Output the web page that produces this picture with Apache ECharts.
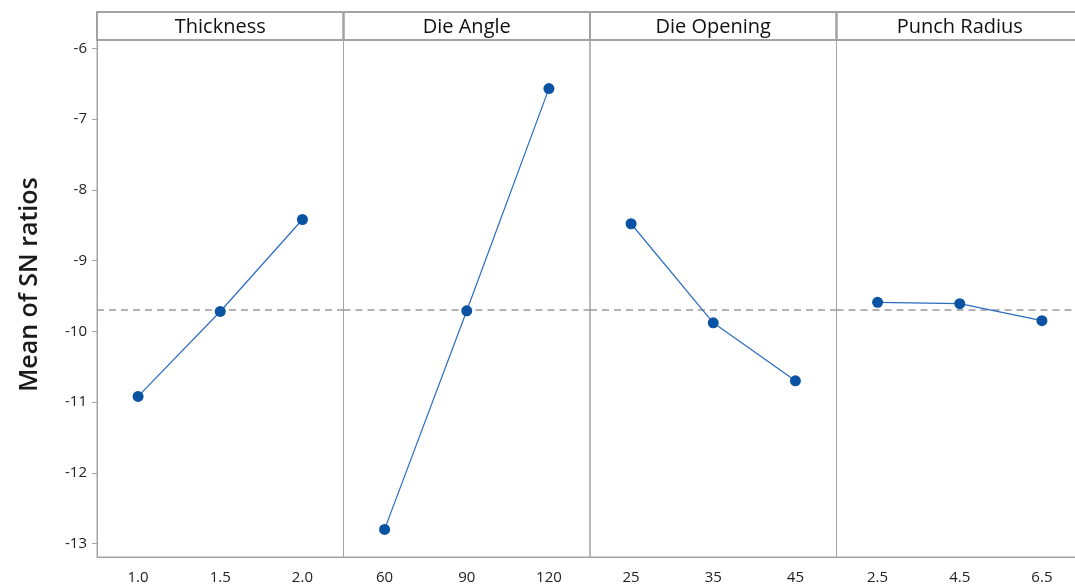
<!DOCTYPE html>
<html>
<head>
<meta charset="utf-8">
<title>Main Effects Plot for SN ratios</title>
<script src="https://cdn.jsdelivr.net/npm/echarts@6/dist/echarts.min.js"></script>
<style>
  html, body { margin: 0; padding: 0; background: #fff; }
  #chart { width: 1075px; height: 586px; }
</style>
</head>
<body>
<div id="chart"></div>
<script>
// factors and their levels
const factors = ['Thickness', 'Die Angle', 'Die Opening', 'Punch Radius'];
const thicknessLevels = ['1.0', '1.5', '2.0'];
const dieAngleLevels = ['60', '90', '120'];
const dieOpeningLevels = ['25', '35', '45'];
const punchRadiusLevels = ['2.5', '4.5', '6.5'];

// mean SN ratio per level
const thicknessSN = [-10.92, -9.72, -8.42];
const dieAngleSN = [-12.80, -9.71, -6.57];
const dieOpeningSN = [-8.48, -9.88, -10.70];
const punchRadiusSN = [-9.59, -9.61, -9.85];

const overallMean = -9.69;
const yTicks = [-13, -12, -11, -10, -9, -8, -7, -6];

const levels = [thicknessLevels, dieAngleLevels, dieOpeningLevels, punchRadiusLevels];
const values = [thicknessSN, dieAngleSN, dieOpeningSN, punchRadiusSN];

// layout
const plotLeft = 97;
const panelW = 246.5;
const plotTop = 40;
const plotBottom = 29;
const headerTop = 12;
const frameColor = '#a3a3a3';
const fontFam = '"Open Sans", "Noto Sans", sans-serif';

const chart = echarts.init(document.getElementById('chart'));

const grids = [], xAxes = [], yAxes = [], series = [], graphics = [];

factors.forEach((name, i) => {
  const left = plotLeft + i * panelW;
  grids.push({
    left: left, width: panelW, top: plotTop, bottom: plotBottom,
    outerBoundsMode: 'none',
    show: true, borderColor: frameColor, borderWidth: 1
  });
  xAxes.push({
    type: 'category', gridIndex: i, data: levels[i], boundaryGap: true,
    axisLine: { lineStyle: { color: frameColor } },
    axisTick: { alignWithLabel: true, length: 4, lineStyle: { color: frameColor } },
    axisLabel: { color: '#222', fontSize: 15, fontFamily: fontFam, margin: 13 }
  });
  yAxes.push({
    type: 'value', gridIndex: i, min: -13.19, max: -5.883,
    show: i === 0,
    splitLine: { show: false },
    axisLine: { show: true, lineStyle: { color: frameColor } },
    axisTick: { show: true, length: 5, customValues: yTicks, lineStyle: { color: frameColor } },
    axisLabel: { show: true, customValues: yTicks, color: '#222', fontSize: 15, fontFamily: fontFam, margin: 10 }
  });
  series.push({
    type: 'line', xAxisIndex: i, yAxisIndex: i, data: values[i],
    symbol: 'circle', symbolSize: 11,
    lineStyle: { color: '#2a6cc0', width: 1.2 },
    itemStyle: { color: '#0a53a3' },
    z: 3,
    markLine: {
      silent: true, symbol: 'none', label: { show: false },
      lineStyle: { color: '#9a9a9a', type: [7, 5], width: 1.5 },
      data: [{ yAxis: overallMean }],
      z: 1
    }
  });
  graphics.push({
    type: 'rect',
    shape: { x: left, y: headerTop, width: panelW, height: plotTop - headerTop },
    style: { fill: 'none', stroke: frameColor, lineWidth: 2 }
  });
  graphics.push({
    type: 'text',
    x: left + panelW / 2, y: (headerTop + plotTop) / 2 + 1,
    style: {
      text: name, fill: '#111', fontSize: 20, fontFamily: fontFam,
      align: 'center', verticalAlign: 'middle'
    }
  });
});

// y axis title, centred on the whole panel block (header included)
graphics.push({
  type: 'text',
  x: 30, y: (headerTop + 586 - plotBottom) / 2,
  rotation: Math.PI / 2,
  style: {
    text: 'Mean of SN ratios', fill: '#1a1a1a', fontSize: 25, fontWeight: 600,
    fontFamily: fontFam, align: 'center', verticalAlign: 'middle'
  }
});

chart.setOption({
  animation: false,
  backgroundColor: '#fff',
  grid: grids,
  xAxis: xAxes,
  yAxis: yAxes,
  series: series,
  graphic: graphics
});
</script>
</body>
</html>
